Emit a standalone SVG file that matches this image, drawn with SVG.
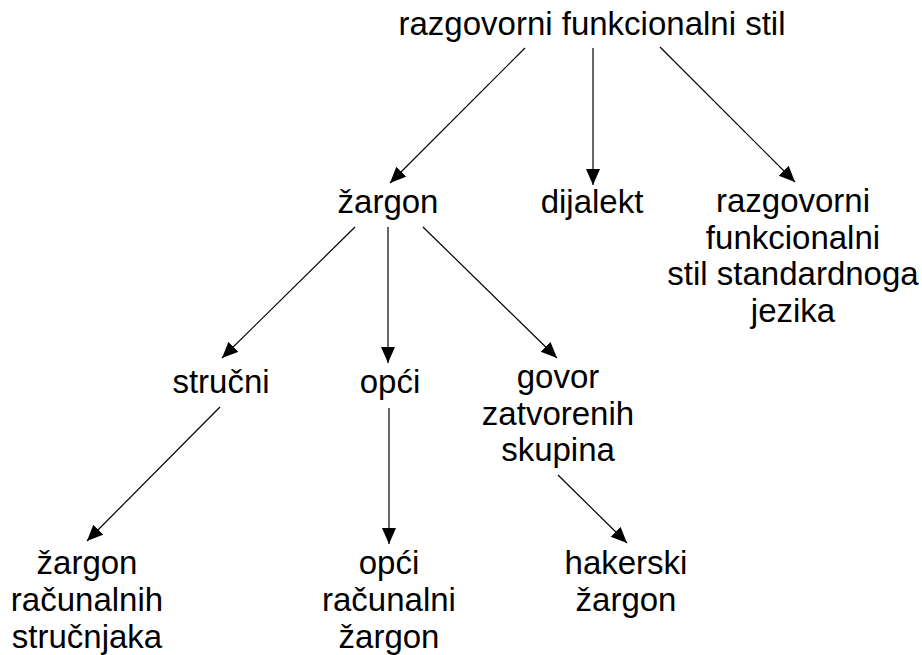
<svg xmlns="http://www.w3.org/2000/svg" width="922" height="655" viewBox="0 0 922 655">
<defs>
<style>
text{font-family:"Liberation Sans",Arial,sans-serif;font-size:33px;fill:#000;text-anchor:middle}
.c line{stroke:#000;stroke-width:1.2;marker-end:url(#ah)}
</style>
<marker id="ah" markerUnits="userSpaceOnUse" markerWidth="17" markerHeight="15" refX="16" refY="7" orient="auto" viewBox="0 0 17 15">
<path d="M0,0 L16,7 L0,14 z" fill="#000"/>
</marker>
</defs>
<rect width="922" height="655" fill="#fff"/>
<g class="c" id="connectors">
<line x1="525" y1="48" x2="390" y2="183"/>
<line x1="593" y1="48" x2="593" y2="185"/>
<line x1="660" y1="47" x2="795" y2="182"/>
<line x1="355" y1="227" x2="222" y2="358"/>
<line x1="388" y1="227" x2="388" y2="363"/>
<line x1="423" y1="227" x2="557" y2="358"/>
<line x1="220" y1="407" x2="87" y2="541"/>
<line x1="389" y1="408" x2="389" y2="544"/>
<line x1="558" y1="475" x2="627" y2="543"/>
</g>
<g id="n-root"><text x="592" y="35">razgovorni funkcionalni stil</text></g>
<g id="n-zargon"><text x="388" y="213">žargon</text></g>
<g id="n-dijalekt"><text x="592" y="213">dijalekt</text></g>
<g id="n-standard"><text x="793" y="212">razgovorni</text><text x="793" y="249">funkcionalni</text><text x="793" y="285">stil standardnoga</text><text x="793" y="322">jezika</text></g>
<g id="n-strucni"><text x="221" y="393">stručni</text></g>
<g id="n-opci"><text x="390" y="393">opći</text></g>
<g id="n-govor"><text x="558" y="388">govor</text><text x="558" y="425">zatvorenih</text><text x="558" y="461">skupina</text></g>
<g id="n-racunalnih"><text x="87" y="574">žargon</text><text x="87" y="611">računalnih</text><text x="87" y="648">stručnjaka</text></g>
<g id="n-opciracunalni"><text x="389" y="574">opći</text><text x="389" y="611">računalni</text><text x="389" y="648">žargon</text></g>
<g id="n-hakerski"><text x="626" y="574">hakerski</text><text x="626" y="611">žargon</text></g>
</svg>
